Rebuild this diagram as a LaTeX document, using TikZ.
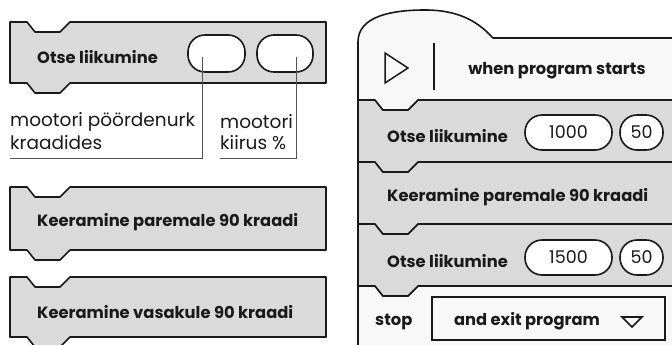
\documentclass[tikz,border=0pt]{standalone}
\usepackage{fontspec}
\setmainfont{Poppins}
\usetikzlibrary{calc}
\definecolor{ink}{HTML}{1A1A1A}
\definecolor{blkgray}{HTML}{DADADA}
\definecolor{hatfill}{HTML}{F8F8F8}
\definecolor{leader}{HTML}{555555}
\tikzset{
  blk/.style={fill=blkgray,draw=ink,line width=1.6pt,line join=round},
  lightblk/.style={blk,fill=hatfill},
  btxt/.style={font=\fontsize{16.3}{19}\selectfont\bfseries,text=ink,inner sep=0pt},
  rtxt/.style={font=\fontsize{18.5}{21}\selectfont,text=ink,inner sep=0pt},
  slot/.style={draw=ink,fill=white,line width=1.6pt,rounded corners=17pt,inner sep=0pt,font=\fontsize{17.5}{20}\selectfont,text=ink},
  leaderline/.style={draw=leader,line width=0.9pt},
}
\newcommand\codeblock[5][]{%
  \draw[blk,#1] (#2,#3) -- (#2+17,#3) -- (#2+25,#3+10) -- (#2+50,#3+10) -- (#2+60,#3) -- (#4,#3)
    -- (#4,#5) -- (#2+60,#5) -- (#2+50,#5+10) -- (#2+25,#5+10) -- (#2+17,#5) -- (#2,#5) -- cycle;}
\begin{document}
\begin{tikzpicture}[x=1pt,y=-1pt]
\useasboundingbox (0,0) rectangle (672,345);
\clip (0,0) rectangle (672,345);
\fill[white] (0,0) rectangle (672,345);

% ---------- left column ----------
\codeblock{10}{22}{326}{83}
\node[btxt,anchor=west] (t1) at (37,57) {Otse liikumine};
\node[slot,minimum width=57pt,minimum height=37pt] (o1) at (216.5,53.5) {};
\node[slot,minimum width=56pt,minimum height=37pt] (o2) at (285,53.5) {};

\coordinate (l1a) at (202,57);
\coordinate (l1b) at (10,158);
\coordinate (l2a) at (296,57);
\coordinate (l2b) at (220,158);
\draw[leaderline] (l1a) |- (l1b);
\draw[leaderline] (l2a) |- (l2b);
\node[rtxt,anchor=west] (c1) at (10,122) {mootori pöördenurk};
\node[rtxt,anchor=west] (c2) at (10,143) {kraadides};
\node[rtxt,anchor=west] (c3) at (220,122) {mootori};
\node[rtxt,anchor=west] (c4) at (220,143) {kiirus \%};

\codeblock{10}{187}{326}{250}
\node[btxt,anchor=west] (t2) at (37,222) {Keeramine paremale 90 kraadi};
\codeblock{10}{277}{326}{337}
\node[btxt,anchor=west] (t3) at (37,312) {Keeramine vasakule 90 kraadi};

% ---------- right column ----------
\codeblock[lightblk]{358}{286}{700}{370}
\codeblock{358}{224}{700}{286}
\codeblock{358}{162}{700}{224}
\codeblock{358}{100}{700}{162}
\draw[lightblk] (700,38) -- (700,100) -- (418,100) -- (408,110) -- (383,110) -- (375,100) -- (358,100)
  -- (358,42) .. controls (358,16) and (392,10) .. (425,10) .. controls (462,10) and (480,24) .. (493,38) -- cycle;

\draw[ink,line width=1.5pt,line join=miter] (385,53) -- (408,68) -- (385,83) -- cycle;
\draw[ink,line width=1.8pt] (434,43) -- (434,90);
\node[btxt] (h) at (557,71) {when program starts};

\node[btxt,anchor=west] (r1) at (387,136) {Otse liikumine};
\node[slot,minimum width=87pt,minimum height=35pt] (v1) at (568.5,132.5) {1000};
\node[slot,minimum width=43pt,minimum height=35pt] (v2) at (641.5,132.5) {50};

\node[btxt,anchor=west] (r2) at (387,197) {Keeramine paremale 90 kraadi};

\node[btxt,anchor=west] (r3) at (387,261) {Otse liikumine};
\node[slot,minimum width=87pt,minimum height=35pt] (v3) at (568.5,257.5) {1500};
\node[slot,minimum width=43pt,minimum height=35pt] (v4) at (641.5,257.5) {50};

\node[btxt,anchor=west] (s) at (375,322) {stop};
\node[draw=ink,fill=hatfill,line width=1.6pt,minimum width=233pt,minimum height=43pt,inner sep=0pt] (dd) at (548.5,318.5) {};
\node[btxt] (ddt) at (527,321) {and exit program};
\draw[ink,line width=1.6pt,line join=miter] (622,317) -- (642,317) -- (632,327) -- cycle;
\end{tikzpicture}
\end{document}
